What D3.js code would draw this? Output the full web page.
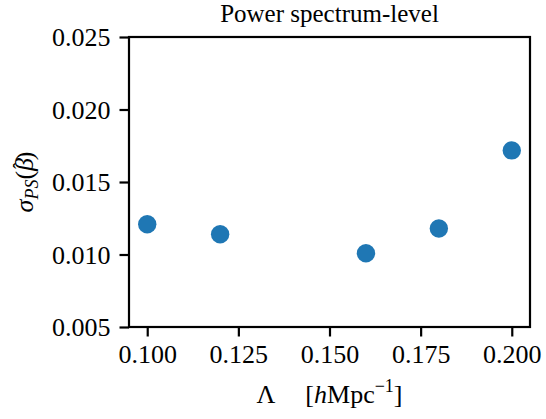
<!DOCTYPE html>
<html>
<head>
<meta charset="utf-8">
<script src="https://cdn.jsdelivr.net/npm/d3@7"></script>
<style>
    body { margin: 0; background: #fff; }
    svg text { font-family: "Liberation Serif", "DejaVu Serif", serif; fill: #000; }
</style>
</head>
<body>
<div id="chart"></div>
<script>
// values
const lambdas = [0.10, 0.12, 0.16, 0.18, 0.20]
const sigmas = [0.01209, 0.0114, 0.01009, 0.01179, 0.01718]
const xTicks = [0.100, 0.125, 0.150, 0.175, 0.200]
const yTicks = [0.005, 0.010, 0.015, 0.020, 0.025]

const width = 546
const height = 419
const plot = { left: 129, right: 530, top: 37, bottom: 327 }
const fontSize = 26

const svg = d3.select("#chart")
    .append("svg")
    .attr("width", width)
    .attr("height", height)

const x = d3.scaleLinear().domain([0.095, 0.205]).range([plot.left, plot.right])
const y = d3.scaleLinear().domain([0.005, 0.025]).range([plot.bottom, plot.top])

const xAxis = svg.append("g")
    .attr("transform", `translate(0,${plot.bottom})`)
    .call(d3.axisBottom(x).tickValues(xTicks).tickFormat(d3.format(".3f")).tickSize(9.5).tickPadding(8))
const yAxis = svg.append("g")
    .attr("transform", `translate(${plot.left},0)`)
    .call(d3.axisLeft(y).tickValues(yTicks).tickFormat(d3.format(".3f")).tickSize(9.5).tickPadding(9))

for (const ax of [xAxis, yAxis]) {
    ax.select(".domain").remove()
    ax.selectAll(".tick line").attr("stroke", "#000").attr("stroke-width", 2.2)
    ax.selectAll(".tick text")
        .attr("font-size", fontSize)
        .attr("font-family", "Liberation Serif, DejaVu Serif, serif")
}
xAxis.selectAll(".tick text").attr("dy", "0.72em")
yAxis.selectAll(".tick text").attr("dy", "0.34em")

// frame
svg.append("rect")
    .attr("x", plot.left)
    .attr("y", plot.top)
    .attr("width", plot.right - plot.left)
    .attr("height", plot.bottom - plot.top)
    .attr("fill", "none")
    .attr("stroke", "#000")
    .attr("stroke-width", 2.2)

svg.append("g")
    .selectAll("circle")
    .data(lambdas.map((l, i) => [l, sigmas[i]]))
    .enter()
    .append("circle")
    .attr("cx", d => x(d[0]))
    .attr("cy", d => y(d[1]))
    .attr("r", 9.2)
    .attr("fill", "#1f77b4")

// title
svg.append("text")
    .attr("x", (plot.left + plot.right) / 2)
    .attr("y", 22)
    .attr("text-anchor", "middle")
    .attr("font-size", 25)
    .text("Power spectrum-level")

// x label
const xLabel = svg.append("text")
    .attr("x", (plot.left + plot.right) / 2)
    .attr("y", 403)
    .attr("text-anchor", "middle")
    .attr("font-size", fontSize)
xLabel.append("tspan").text("Λ")
xLabel.append("tspan").attr("dx", 30).text("[")
xLabel.append("tspan").attr("font-style", "italic").text("h")
xLabel.append("tspan").text("Mpc")
xLabel.append("tspan").attr("font-size", 18).attr("dy", -11).text("−1")
xLabel.append("tspan").attr("dy", 11).text("]")

// y label
const yLabel = svg.append("text")
    .attr("transform", `translate(33,${(plot.top + plot.bottom) / 2}) rotate(-90)`)
    .attr("text-anchor", "middle")
    .attr("font-size", fontSize)
yLabel.append("tspan").attr("font-style", "italic").text("σ")
yLabel.append("tspan").attr("font-style", "italic").attr("font-size", 18).attr("dy", 5).text("PS")
yLabel.append("tspan").attr("dy", -5).text("(")
yLabel.append("tspan").attr("font-style", "italic").text("β")
yLabel.append("tspan").attr("font-size", 20).attr("dx", -11).attr("dy", -5).text("ˆ")
yLabel.append("tspan").attr("dx", 2).attr("dy", 5).text(")")
</script>
</body>
</html>
